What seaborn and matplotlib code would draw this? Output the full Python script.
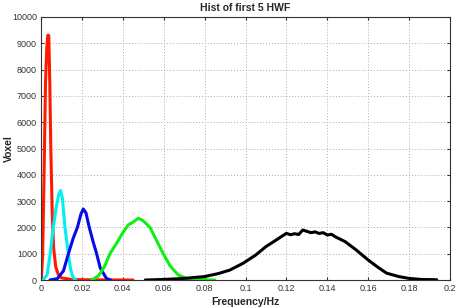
import numpy as np
import pandas as pd
import matplotlib
matplotlib.use("Agg")
import matplotlib.pyplot as plt
import seaborn as sns

# Series (frequency in Hz, voxel counts)
red_x = [0.0002, 0.0008, 0.0015, 0.0022, 0.0028, 0.0033, 0.0038, 0.0043, 0.0048, 0.0055,
         0.0062, 0.0072, 0.0085, 0.010, 0.015, 0.025, 0.035, 0.045]
red_y = [0, 1000, 4000, 7500, 8800, 9300, 9300, 7500, 5000, 2500,
         1200, 500, 200, 80, 20, 5, 2, 0]

cyan_x = [0.001, 0.003, 0.0045, 0.006, 0.0075, 0.0088, 0.0096, 0.0105, 0.0117, 0.0134,
          0.0145, 0.0157, 0.017]
cyan_y = [0, 200, 1000, 2000, 2800, 3300, 3400, 3100, 2000, 1000, 400, 100, 0]

blue_x = [0.0044, 0.008, 0.011, 0.0134, 0.0158, 0.0178, 0.0195, 0.0207, 0.022, 0.0236,
          0.0255, 0.0272, 0.029, 0.032, 0.034]
blue_y = [0, 50, 350, 1000, 1600, 2000, 2500, 2700, 2550, 2000, 1450, 1000, 450, 60, 0]

green_x = [0.0248, 0.028, 0.031, 0.0337, 0.037, 0.040, 0.0427, 0.045, 0.0476, 0.050,
           0.0533, 0.0565, 0.0598, 0.063, 0.067, 0.0712, 0.076, 0.085]
green_y = [0, 150, 500, 1000, 1400, 1800, 2100, 2200, 2350, 2250,
           2000, 1500, 1000, 550, 200, 60, 20, 0]

black_x = [0.051, 0.060, 0.070, 0.080, 0.087, 0.0924, 0.0989, 0.105, 0.110, 0.115,
           0.120, 0.122, 0.124, 0.126, 0.128, 0.130, 0.132, 0.134, 0.136, 0.138,
           0.140, 0.142, 0.144, 0.1487, 0.154, 0.160, 0.165, 0.169, 0.175, 0.180,
           0.186, 0.1935]
black_y = [0, 20, 60, 130, 250, 380, 640, 950, 1270, 1520,
           1775, 1720, 1760, 1730, 1900, 1850, 1800, 1830, 1770, 1800,
           1710, 1740, 1640, 1460, 1150, 760, 470, 260, 130, 60, 20, 10]

series = {
    "HWF1": (red_x, red_y),
    "HWF2": (cyan_x, cyan_y),
    "HWF3": (blue_x, blue_y),
    "HWF4": (green_x, green_y),
    "HWF5": (black_x, black_y),
}
colors = {"HWF1": "#ff1a00", "HWF2": "#00f0f0", "HWF3": "#0a0ae6",
          "HWF4": "#10f010", "HWF5": "#000000"}

rows = []
for name, (xs, ys) in series.items():
    for x, y in zip(xs, ys):
        rows.append({"freq": x, "voxel": y, "hwf": name})
df = pd.DataFrame(rows)

sns.set_style("white")
plt.rcParams["font.family"] = ["Liberation Sans", "DejaVu Sans"]

fig = plt.figure(figsize=(4.59, 3.07), dpi=100)
ax = fig.add_axes([41 / 459, 1 - 280 / 307, (450 - 41) / 459, (280 - 17) / 307])

sns.lineplot(data=df, x="freq", y="voxel", hue="hwf", palette=colors,
             linewidth=2.2, legend=False, ax=ax, sort=False)

ax.set_xlim(0, 0.2)
ax.set_ylim(0, 10000)
ax.set_xticks(np.arange(0, 0.2001, 0.02))
ax.set_xticklabels(["0", "0.02", "0.04", "0.06", "0.08", "0.1", "0.12", "0.14",
                    "0.16", "0.18", "0.2"])
ax.set_yticks(np.arange(0, 10001, 1000))
ax.set_yticklabels([str(v) for v in range(0, 10001, 1000)])
ax.tick_params(labelsize=6.5, colors="#333333", length=2, direction="in",
               top=True, right=True, bottom=True, left=True, pad=3)
ax.grid(True, linestyle=(0, (1, 2)), color="#aaaaaa", linewidth=0.7)
for s in ax.spines.values():
    s.set_color("#333333")
    s.set_linewidth(0.8)

ax.set_title("Hist of first 5 HWF", fontsize=7.5, fontweight="bold", pad=4)
ax.set_xlabel("Frequency/Hz", fontsize=7.5, fontweight="bold", labelpad=3)
ax.set_ylabel("Voxel", fontsize=7.5, fontweight="bold")
ax.yaxis.set_label_coords(-0.066, 0.5)

fig.savefig("out.png", dpi=100)
